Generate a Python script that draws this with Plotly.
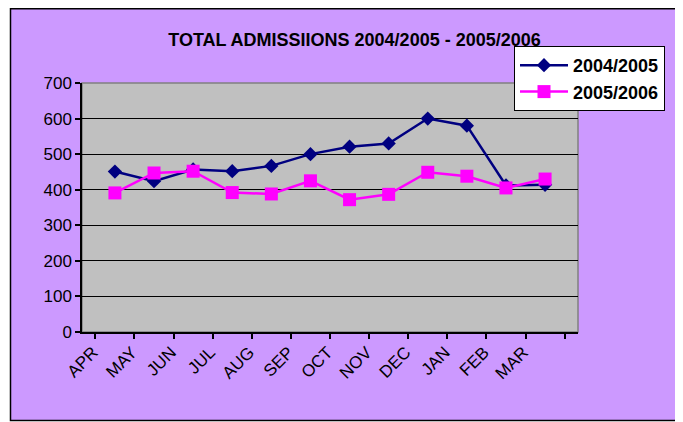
import plotly.graph_objects as go

months = ["APR", "MAY", "JUN", "JUL", "AUG", "SEP", "OCT", "NOV", "DEC", "JAN", "FEB", "MAR"]
adm_2004_2005 = [451, 424, 457, 452, 467, 500, 521, 530, 600, 580, 412, 414]
adm_2005_2006 = [391, 447, 452, 392, 388, 425, 372, 387, 449, 438, 405, 430]
y_ticks = [0, 100, 200, 300, 400, 500, 600, 700]

# page body has an 8px margin, so the figure starts at (8, 8)
OFF = 8
W, H = 683 - OFF, 422 - OFF
L, R, T, B = 82 - OFF, 578 - OFF, 83 - OFF, 332 - OFF
pw, ph = R - L, B - T

def px(x):
    return (x - OFF - L) / pw

def py(y):
    return (B - (y - OFF)) / ph

FONT = "Liberation Sans, Arial, sans-serif"

fig = go.Figure()
fig.add_trace(go.Scatter(
    x=months, y=adm_2004_2005, name="2004/2005", mode="lines+markers",
    line=dict(color="#000080", width=2.5),
    marker=dict(symbol="diamond", size=11, color="#000080"),
))
fig.add_trace(go.Scatter(
    x=months, y=adm_2005_2006, name="2005/2006", mode="lines+markers",
    line=dict(color="#FF00FF", width=2.5),
    marker=dict(symbol="square", size=13, color="#FF00FF"),
))

fig.update_layout(
    width=W, height=H,
    margin=dict(l=L, r=W - R, t=T, b=H - B, pad=0),
    paper_bgcolor="white",
    plot_bgcolor="rgba(0,0,0,0)",
    font=dict(family=FONT, color="black", size=17),
    title=dict(
        text="TOTAL ADMISSIIONS 2004/2005 - 2005/2006",
        font=dict(family=FONT, size=18, color="black", weight="bold"),
        xref="container", yref="container",
        x=(354.5 - OFF) / W, y=1 - (40 - OFF) / H, xanchor="center", yanchor="middle",
    ),
    legend=dict(
        x=px(514), y=py(46), xanchor="left", yanchor="top",
        bgcolor="white", bordercolor="black", borderwidth=1,
        font=dict(family=FONT, size=18, color="black", weight="bold"),
        itemwidth=48,
    ),
    xaxis=dict(
        type="category", showgrid=False, zeroline=False,
        showline=True, linecolor="black", linewidth=1.5,
        ticks="outside", tickson="boundaries", ticklen=5, tickcolor="black", tickwidth=1.5,
        tickangle=-45, tickfont=dict(family=FONT, size=17, color="black"),
        ticklabelshift=-22, ticklabelstandoff=2,
        fixedrange=True,
    ),
    yaxis=dict(
        range=[0, 700], tickvals=y_ticks, showgrid=True, gridcolor="black", gridwidth=1,
        zeroline=False, showline=True, linecolor="black", linewidth=1.5,
        ticks="outside", ticklen=5, tickcolor="black", tickwidth=1.5,
        tickfont=dict(family=FONT, size=17, color="black"),
        fixedrange=True,
    ),
    shapes=[
        dict(type="rect", xref="paper", yref="paper", layer="below",
             x0=px(10.5), x1=px(700), y0=py(420.5), y1=py(8.75),
             fillcolor="#CC99FF", line=dict(color="black", width=1.5)),
        dict(type="rect", xref="paper", yref="paper", layer="below",
             x0=0, x1=1, y0=0, y1=1,
             fillcolor="#C0C0C0", line=dict(color="#808080", width=1.5)),
    ],
    showlegend=True,
)

fig.write_html("out.html")
